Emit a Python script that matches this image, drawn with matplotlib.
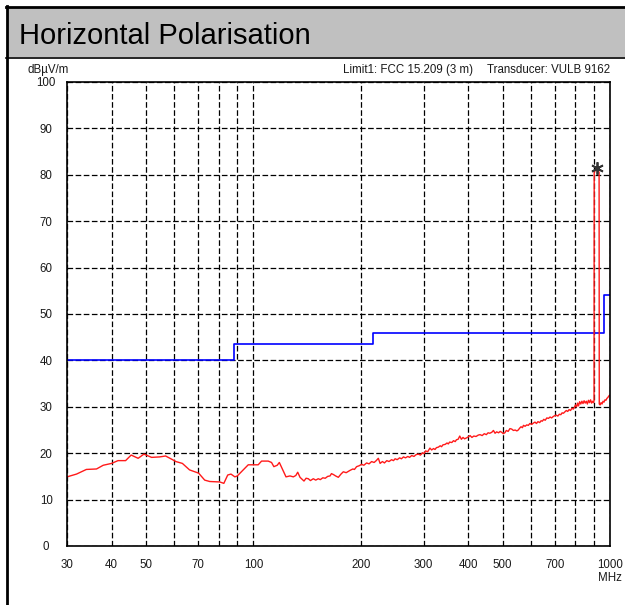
import matplotlib.pyplot as plt
from matplotlib.patches import Rectangle
from matplotlib.lines import Line2D
from matplotlib.ticker import NullLocator

plt.rcParams['font.family'] = ['Liberation Sans', 'DejaVu Sans']

freq_mhz = [30, 31.9, 34.0, 36.3, 37.9, 40.0, 41.7, 43.8, 45.4, 47.5, 49.3, 51.8, 54.6, 56.7,
            59.0, 60.6, 63.2, 66.2, 70.2, 73.0, 75.4, 80.5, 82.6, 84.7, 86.5, 88.7, 90.1, 93.6,
            96.7, 100.3, 103.1, 105.4, 110.0, 112.4, 114.1, 116.6, 118.2, 123.4, 126.6, 129.4,
            131.5, 133.1, 135.1, 138.6, 140.5, 142.5, 144.5, 147.2, 149.5, 152, 154, 156.5, 159,
            161.5, 164, 165.5, 167.6, 170, 173, 176, 178.7, 182, 186.6, 190, 192, 194.7, 198,
            201, 204, 207.7, 211, 214.5, 218, 221, 224, 226.6, 230, 233, 236.6, 240, 244, 247,
            249.7, 253, 257, 260, 263.5, 267, 271, 274, 278, 282, 286, 290, 294, 298, 300.9,
            304, 308, 312.6, 316, 320, 323, 326, 330, 334, 337, 340, 345, 349, 352, 355, 360,
            364, 368, 371, 375, 379, 383, 387, 391, 396, 400, 405, 410, 415, 421, 427, 432, 438,
            444, 450, 455, 460, 466, 471, 476, 481, 487, 492, 497, 502, 507, 512, 518, 524, 530,
            536, 542, 548, 553, 558, 563, 568, 572, 578, 584, 590, 596, 603, 610, 616, 622, 628,
            635, 641, 646, 652, 658, 665, 672, 679, 686, 693, 700, 707, 714, 721, 728, 734, 740,
            747, 754, 761, 768, 775, 782, 789, 795, 800, 806, 811, 816, 822, 828, 834, 840, 846,
            852, 858, 864, 870, 876, 882, 888, 894, 899, 902, 903, 910, 916, 925, 932, 933, 938,
            944, 950, 956, 962, 968, 974, 980, 986, 992, 997, 1000]
level_dbuv = [14.9, 15.5, 16.5, 16.6, 17.4, 17.8, 18.4, 18.4, 19.6, 18.9, 19.8, 19.1, 19.2, 19.4,
              18.7, 18.2, 17.8, 16.4, 15.7, 14.2, 13.9, 13.8, 13.5, 15.3, 15.5, 14.9, 15.1, 16.4,
              17.5, 17.5, 17.5, 18.3, 18.3, 18.0, 17.1, 17.4, 18.0, 14.9, 15.1, 14.9,
              15.2, 15.9, 14.8, 14.0, 14.6, 14.5, 14.1, 14.5, 14.2, 14.5, 14.3, 14.7, 14.6,
              15.0, 15.1, 15.6, 15.4, 15.1, 14.8, 15.5, 16.0, 15.8, 16.3, 16.6, 16.5, 17.1, 17.3,
              17.6, 17.4, 17.9, 17.7, 18.2, 18.0, 18.4, 18.9, 17.8, 18.2, 17.9, 18.4, 18.2, 18.6, 18.4,
              18.8, 18.6, 19.0, 18.8, 19.2, 19.0, 19.3, 19.1, 19.5, 19.3, 19.7, 19.8, 19.6, 20.1, 19.9,
              20.5, 20.3, 21.1, 20.7, 21.0, 20.8, 21.2, 21.3, 21.6, 21.4, 21.8, 21.9, 22.2, 22.0, 22.4, 22.3,
              22.7, 22.5, 22.9, 23.0, 23.7, 23.0, 23.4, 23.1, 23.3, 23.5, 23.8, 23.4, 23.7, 23.6, 23.9, 24.0, 23.8,
              24.2, 24.0, 24.4, 24.3, 24.5, 24.9, 24.3, 24.6, 24.4, 24.7, 24.5, 24.2, 24.4, 24.9, 24.7, 25.3, 25.2,
              24.9, 25.0, 24.8, 25.0, 25.4, 25.7, 25.5, 26.0, 25.8, 26.1, 26.0, 26.4, 26.2, 26.5, 26.7, 26.4, 26.8,
              26.6, 27.0, 26.9, 27.3, 27.1, 27.6, 27.5, 27.8, 27.6, 27.9, 28.1, 28.2, 28.0, 28.4, 28.3, 28.7, 28.6,
              28.9, 29.2, 29.0, 29.4, 29.2, 29.7, 29.5, 29.9, 30.4, 30.0, 30.8, 30.2, 31.1, 30.6, 31.2, 30.7, 31.3,
              30.8, 31.2, 30.6, 31.4, 30.9, 31.5, 30.8, 31.2, 30.9, 31.3, 80.5, 81.0, 81.3, 80.8, 80.6, 30.6, 30.4,
              30.9, 30.6, 31.2, 31.0, 31.5, 31.4, 31.8, 32.0, 32.3, 32.5, 32.5]

# FCC 15.209 limit at 3 m
limit_freq = [30, 88, 88, 216, 216, 960, 960, 1000]
limit_level = [40, 40, 43.5, 43.5, 46, 46, 54, 54]

peak_freq = 917
peak_level = 81.4

x_grid = [30, 40, 50, 60, 70, 80, 90, 100, 200, 300, 400, 500, 600, 700, 800, 900, 1000]
x_labels = ['30', '40', '50', '', '70', '', '', '100', '200', '300', '400', '500', '', '700', '', '',
            '1000\nMHz']
y_ticks = [0, 10, 20, 30, 40, 50, 60, 70, 80, 90, 100]

W, H = 625, 605
fig = plt.figure(figsize=(W / 100, H / 100), dpi=100)

# frame + grey title bar
fig.patches.append(Rectangle((7 / W, 1 - 57 / H), 1, 50 / H, transform=fig.transFigure,
                             facecolor='#c0c0c0', edgecolor='none', zorder=0))
fig.lines.append(Line2D([6 / W, 1], [1 - 6.5 / H] * 2, transform=fig.transFigure, color='black', lw=2))
fig.lines.append(Line2D([6.5 / W] * 2, [0, 1 - 6 / H], transform=fig.transFigure, color='black', lw=2))
fig.lines.append(Line2D([6 / W, 1], [1 - 57.5 / H] * 2, transform=fig.transFigure, color='black', lw=1.2))
fig.text(19 / W, 1 - 44 / H, 'Horizontal Polarisation', fontsize=21, va='baseline', ha='left')

small = dict(fontsize=8.3, color='#1a1a1a', va='center')
fig.text(27 / W, 1 - 70 / H, 'dBµV/m', ha='left', **small)
fig.text(343 / W, 1 - 70 / H, 'Limit1: FCC 15.209 (3 m)', ha='left', **small)
fig.text(610 / W, 1 - 70 / H, 'Transducer: VULB 9162', ha='right', **small)

ax = fig.add_axes([67 / W, 1 - 546 / H, 543 / W, 464 / H])
ax.set_xscale('log')
ax.set_xlim(30, 1000)
ax.set_ylim(0, 100)
ax.xaxis.set_minor_locator(NullLocator())
ax.set_xticks(x_grid)
ax.set_xticklabels(x_labels)
ax.set_yticks(y_ticks)
ax.set_yticklabels([str(v) for v in y_ticks])
ax.tick_params(axis='both', length=0, labelsize=8.3, labelcolor='#1a1a1a')
ax.tick_params(axis='x', pad=9)
ax.tick_params(axis='y', pad=15)
for lab in ax.get_yticklabels():
    lab.set_horizontalalignment('center')
ax.grid(True, color='black', linestyle=(0, (4.5, 2)), linewidth=0.9)
ax.set_axisbelow(True)
for s in ax.spines.values():
    s.set_linewidth(1.2)

ax.plot(limit_freq, limit_level, color='#0000ff', lw=1.2)
ax.plot(freq_mhz, level_dbuv, color='#ff1a1a', lw=1.0)
ax.plot([peak_freq], [peak_level], marker=(6, 2, 0), markersize=9, color='#333333', mew=1.3)

fig.savefig('out.png', dpi=100)
